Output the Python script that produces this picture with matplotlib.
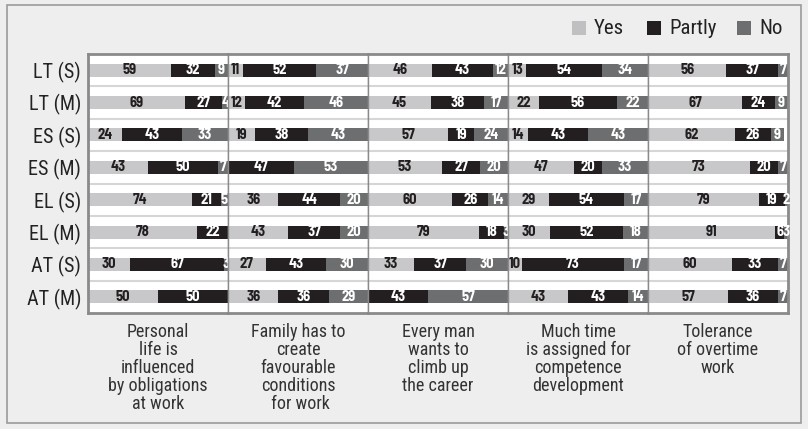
import matplotlib.pyplot as plt
from matplotlib.patches import Rectangle

rows = ["LT (S)", "LT (M)", "ES (S)", "ES (M)", "EL (S)", "EL (M)", "AT (S)", "AT (M)"]
questions = [
    "Personal\nlife is\ninfluenced\nby obligations\nat work",
    "Family has to\ncreate\nfavourable\nconditions\n for work",
    "Every man\nwants to\nclimb up\nthe career",
    "Much time\nis assigned for\ncompetence\ndevelopment",
    "Tolerance\nof overtime\nwork",
]

yes = [
    [59, 69, 24, 43, 74, 78, 30, 50],
    [11, 12, 19, 0, 36, 43, 27, 36],
    [46, 45, 57, 53, 60, 79, 33, 0],
    [13, 22, 14, 47, 29, 30, 10, 43],
    [56, 67, 62, 73, 79, 91, 60, 57],
]
partly = [
    [32, 27, 43, 50, 21, 22, 67, 50],
    [52, 42, 38, 47, 44, 37, 43, 36],
    [43, 38, 19, 27, 26, 18, 37, 43],
    [54, 56, 43, 20, 54, 52, 73, 43],
    [37, 24, 26, 20, 19, 6, 33, 36],
]
no = [
    [9, 4, 33, 7, 5, 0, 3, 0],
    [37, 46, 43, 53, 20, 20, 30, 29],
    [12, 17, 24, 20, 14, 3, 30, 57],
    [34, 22, 43, 33, 17, 18, 17, 14],
    [7, 9, 9, 7, 2, 3, 7, 7],
]

series = ["Yes", "Partly", "No"]
colors = ["#c8c8ca", "#231f20", "#6d6e70"]
text_colors = ["#231f20", "white", "white"]

W, H = 808, 429
NARROW = ["Roboto Condensed", "Archivo Narrow", "Barlow Condensed", "DejaVu Sans"]
NARROW_B = ["Barlow Semi Condensed", "Barlow Condensed", "DejaVu Sans"]


def fx(px):
    return px / W


def fy(py):
    return 1 - py / H


fig = plt.figure(figsize=(W / 100, H / 100), dpi=100)
fig.patch.set_facecolor("#eeeeee")
fig.patches.append(Rectangle((fx(7), fy(423)), fx(794), 418 / H, transform=fig.transFigure,
                             fill=False, edgecolor="#9a9a9a", lw=1.2))

left, top, bottom, pw = 88, 54, 313, 140
for p in range(5):
    ax = fig.add_axes([fx(left + p * pw), fy(bottom), fx(pw), (bottom - top) / H])
    ax.set_facecolor("white")
    for k in range(1, 8):
        ax.axhline(k - 0.5, color="#d6d6d6", lw=1.5, zorder=0)
    lefts = [0] * 8
    for s, vals in enumerate([yes[p], partly[p], no[p]]):
        ax.barh(range(8), vals, left=lefts, height=0.4, color=colors[s], zorder=2)
        for i, v in enumerate(vals):
            if v > 0:
                ax.text(lefts[i] + v / 2, i, str(v), ha="center", va="center",
                        color=text_colors[s], fontsize=10.5, fontweight="bold",
                        family=NARROW_B, zorder=3)
        lefts = [a + b for a, b in zip(lefts, vals)]
    ax.set_xlim(0, 100)
    ax.set_ylim(7.5, -0.5)
    ax.set_xticks([])
    ax.set_yticks([])
    for side, sp in ax.spines.items():
        sp.set_color("#8a8a8a")
        sp.set_linewidth(1.0)
    ax.spines["top"].set_linewidth(2)
    ax.spines["bottom"].set_linewidth(2)
    if p == 0:
        ax.spines["left"].set_linewidth(2)
        ax.set_yticks(range(8))
        ax.set_yticklabels(rows, fontsize=14.5, family=NARROW, color="#222222")
        ax.tick_params(axis="y", length=0, pad=5)
    if p == 4:
        ax.spines["right"].set_linewidth(2)
    fig.text(fx(left + p * pw + pw / 2), fy(323), questions[p], ha="center", va="top",
             multialignment="center", fontsize=13, family=NARROW, color="#333333",
             linespacing=1.0)

# legend
lx = [572, 647, 737]
for s in range(3):
    fig.patches.append(Rectangle((fx(lx[s]), fy(35)), fx(14), 14 / H, transform=fig.transFigure,
                                 facecolor=colors[s] if s else "#c0c0c2", edgecolor="none"))
    fig.text(fx(lx[s] + 22), fy(28.5), series[s], ha="left", va="center", fontsize=15,
             family=NARROW, color="#222222")

fig.savefig("out.png", dpi=100, facecolor=fig.get_facecolor())
